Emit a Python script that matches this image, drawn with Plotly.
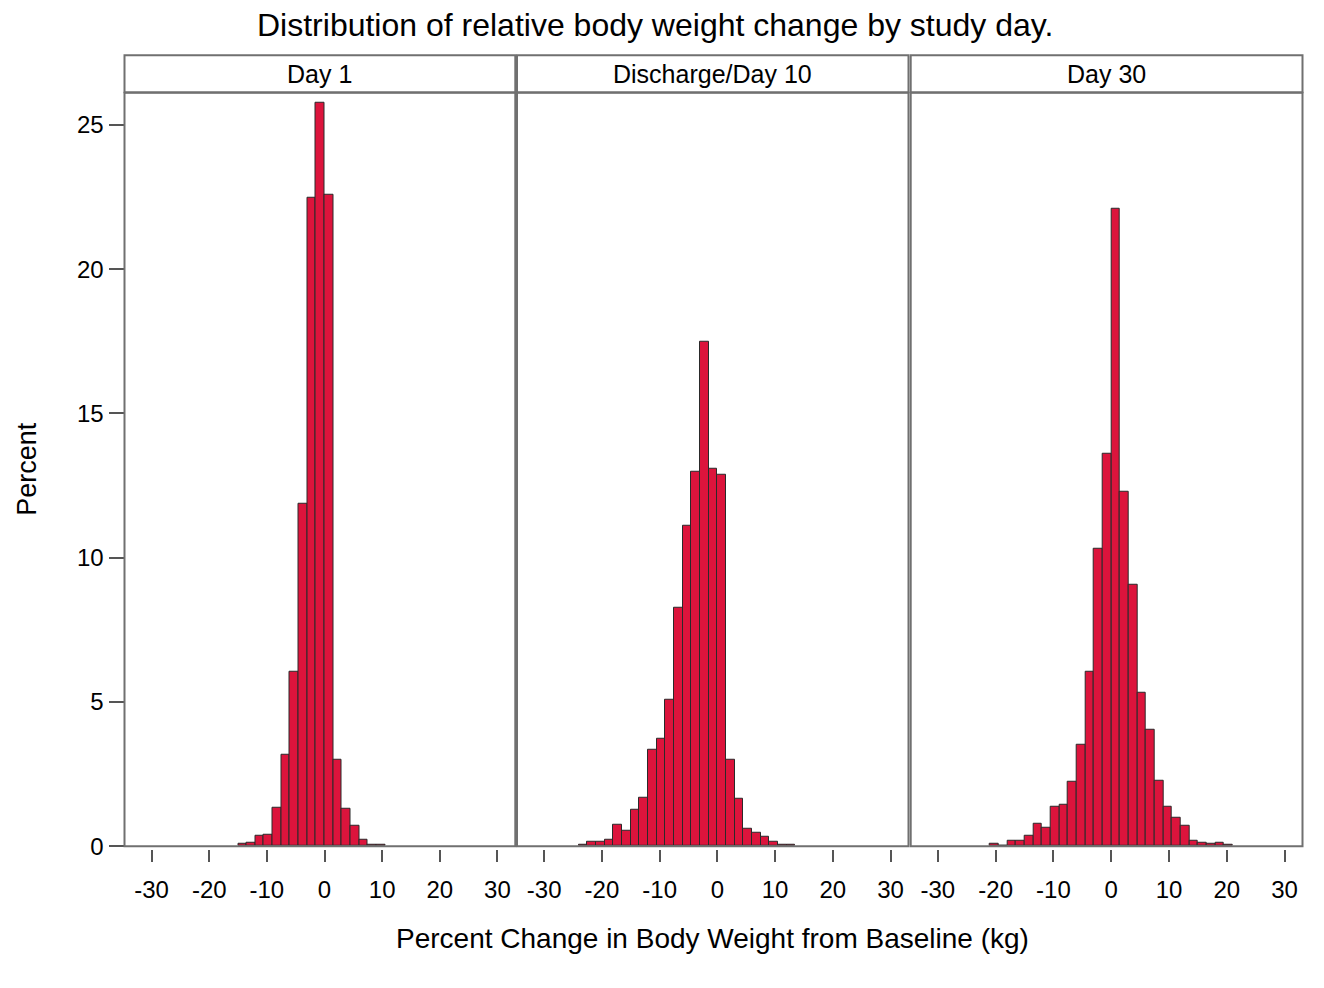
import plotly.graph_objects as go

# Histogram bins (left edges, width 1.5 %) and percent of patients per bin
BIN_WIDTH = 1.5

day1_bins = [-15, -13.5, -12, -10.5, -9, -7.5, -6, -4.5, -3, -1.5, 0, 1.5, 3, 4.5, 6, 7.5, 9]
day1_pct = [0.07, 0.13, 0.35, 0.41, 1.34, 3.16, 6.03, 11.88, 22.47, 25.75, 22.58,
            2.99, 1.29, 0.70, 0.24, 0.06, 0.06]

day10_bins = [-24, -22.5, -21, -19.5, -18, -16.5, -15, -13.5, -12, -10.5, -9, -7.5, -6,
              -4.5, -3, -1.5, 0, 1.5, 3, 4.5, 6, 7.5, 9, 10.5, 12]
day10_pct = [0.05, 0.15, 0.15, 0.24, 0.75, 0.52, 1.26, 1.69, 3.36, 3.72, 5.08, 8.25, 11.11,
             12.99, 17.49, 13.08, 12.87, 2.98, 1.63, 0.62, 0.46, 0.34, 0.16, 0.06, 0.05]

day30_bins = [-21, -19.5, -18, -16.5, -15, -13.5, -12, -10.5, -9, -7.5, -6, -4.5, -3, -1.5,
              0, 1.5, 3, 4.5, 6, 7.5, 9, 10.5, 12, 13.5, 15, 16.5, 18, 19.5]
day30_pct = [0.07, 0.0, 0.18, 0.18, 0.35, 0.77, 0.64, 1.36, 1.42, 2.22, 3.51, 6.04, 10.30,
             13.59, 22.10, 12.29, 9.07, 5.32, 4.03, 2.28, 1.36, 0.99, 0.70, 0.19, 0.12,
             0.07, 0.12, 0.06]

panel_titles = ["Day 1", "Discharge/Day 10", "Day 30"]
x_tick_vals = [-30, -20, -10, 0, 10, 20, 30]
x_tick_text = ["-30", "-20", "-10", "0", "10", "20", "30"]
y_tick_vals = [0, 5, 10, 15, 20, 25]

W, H = 1324, 988
FONT = "Liberation Sans, Arial, sans-serif"
BAR_FILL = "#DC143C"
BAR_EDGE = "#2a2a2a"
FRAME = "#707070"

# panel geometry in pixels
panel_x = [(124.5, 515.3), (517.0, 908.5), (910.7, 1302.5)]
plot_top, plot_bottom = 94.0, 857.5
strip_top, strip_bottom = 56.0, 93.5
x_range = [-34.7, 33.1]
y_range = [0, (plot_bottom - plot_top) / 29.24]


def px_x(p):
    return p / W


def px_y(p):
    return 1 - p / H


fig = go.Figure()

series = [(day1_bins, day1_pct), (day10_bins, day10_pct), (day30_bins, day30_pct)]
for i, (bins, pct) in enumerate(series):
    suffix = "" if i == 0 else str(i + 1)
    fig.add_trace(go.Bar(
        x=bins, y=pct, width=BIN_WIDTH, offset=0,
        marker=dict(color=BAR_FILL, line=dict(color=BAR_EDGE, width=1)),
        xaxis="x" + suffix, yaxis="y" + suffix, showlegend=False,
        hoverinfo="x+y",
    ))

layout = dict(
    width=W, height=H,
    margin=dict(l=0, r=0, t=0, b=0),
    paper_bgcolor="white", plot_bgcolor="white",
    bargap=0,
    font=dict(family=FONT, color="black", size=24),
)

x_axis_pos = px_y(plot_bottom + 3)
for i, (x0, x1) in enumerate(panel_x):
    suffix = "" if i == 0 else str(i + 1)
    layout["xaxis" + suffix] = dict(
        domain=[px_x(x0), px_x(x1)], range=x_range,
        anchor="free", position=x_axis_pos,
        showline=False, showgrid=False, zeroline=False,
        ticks="outside", ticklen=12, tickwidth=1.5, tickcolor="#555555",
        tickvals=x_tick_vals, ticktext=x_tick_text,
        ticklabelstandoff=7,
        tickfont=dict(size=24, family=FONT, color="black"),
        fixedrange=True,
    )
    layout["yaxis" + suffix] = dict(
        domain=[px_y(plot_bottom), px_y(plot_top)], range=y_range,
        anchor="x" + suffix,
        showline=False, showgrid=False, zeroline=False,
        ticks="outside" if i == 0 else "", ticklen=15, tickwidth=1.5, tickcolor="#555555",
        tickvals=y_tick_vals, showticklabels=(i == 0),
        tickfont=dict(size=24, family=FONT, color="black"),
        fixedrange=True,
    )

shapes = []
annotations = []
for i, (x0, x1) in enumerate(panel_x):
    # panel frame
    shapes.append(dict(type="rect", xref="paper", yref="paper",
                       x0=px_x(x0), x1=px_x(x1), y0=px_y(plot_bottom), y1=px_y(plot_top),
                       line=dict(color=FRAME, width=2), fillcolor="rgba(0,0,0,0)",
                       layer="above"))
    # strip header
    shapes.append(dict(type="rect", xref="paper", yref="paper",
                       x0=px_x(x0), x1=px_x(x1), y0=px_y(strip_bottom), y1=px_y(strip_top),
                       line=dict(color=FRAME, width=2), fillcolor="white"))
    annotations.append(dict(text=panel_titles[i], xref="paper", yref="paper",
                            x=px_x((x0 + x1) / 2), y=px_y((strip_top + strip_bottom) / 2),
                            xanchor="center", yanchor="middle", showarrow=False,
                            font=dict(size=25, family=FONT, color="black")))

annotations.append(dict(text="Distribution of relative body weight change by study day.",
                        xref="paper", yref="paper", x=px_x(655), y=px_y(25),
                        xanchor="center", yanchor="middle", showarrow=False,
                        font=dict(size=32, family=FONT, color="black")))
annotations.append(dict(text="Percent Change in Body Weight from Baseline (kg)",
                        xref="paper", yref="paper", x=px_x(712), y=px_y(951),
                        xanchor="center", yanchor="middle", showarrow=False,
                        font=dict(size=28, family=FONT, color="black")))
annotations.append(dict(text="Percent", textangle=-90,
                        xref="paper", yref="paper", x=px_x(27), y=px_y(475),
                        xanchor="center", yanchor="middle", showarrow=False,
                        font=dict(size=27, family=FONT, color="black")))

layout["shapes"] = shapes
layout["annotations"] = annotations
fig.update_layout(**layout)

fig.write_html("out.html")
